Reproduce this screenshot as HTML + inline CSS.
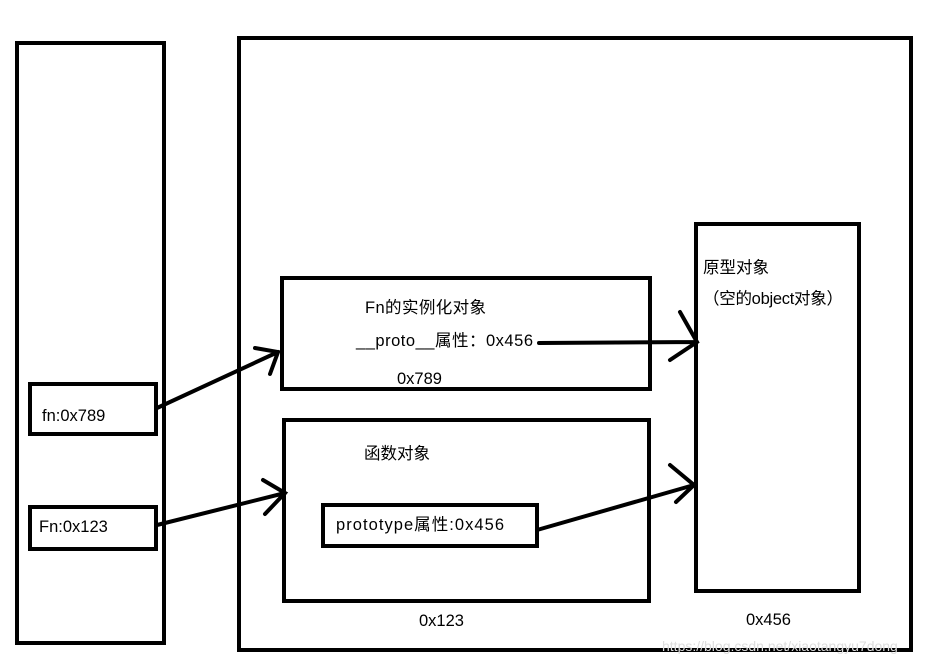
<!DOCTYPE html>
<html><head><meta charset="utf-8"><style>
html,body{margin:0;padding:0;background:#fff;width:937px;height:663px;overflow:hidden}
text{font-family:"Liberation Sans","Noto Sans CJK SC",sans-serif;font-size:16.5px;fill:#000}
</style></head><body>
<svg width="937" height="663" xmlns="http://www.w3.org/2000/svg">
<g fill="none" stroke="#000" stroke-width="4">
<rect x="17" y="43" width="147" height="600"/>
<rect x="239" y="38" width="672" height="612"/>
<rect x="282" y="278" width="368" height="111"/>
<rect x="284" y="420" width="365" height="181"/>
<rect x="696" y="224" width="163" height="367"/>
<rect x="30" y="384" width="126" height="50"/>
<rect x="30" y="507" width="126" height="42"/>
<rect x="323" y="505" width="214" height="41"/>
</g>
<g fill="none" stroke="#000" stroke-width="4" stroke-linecap="round">
<path d="M157 408 L278 352 M255 348 L278 352 L270 374"/>
<path d="M157 525 L285 493 M263 480 L285 493 L265 514"/>
<path d="M539 343 L697 342 M680 312 L697 342 L670 360"/>
<path d="M537 530 L694 485 M670 465 L694 485 L676 502"/>
</g>
<text x="365" y="313" textLength="121">Fn的实例化对象</text>
<text x="356" y="346" textLength="177">__proto__属性：0x456</text>
<text x="397" y="384">0x789</text>
<text x="364" y="459">函数对象</text>
<text x="336" y="530" textLength="168">prototype属性:0x456</text>
<text x="419" y="626">0x123</text>
<text x="746" y="625">0x456</text>
<text x="703" y="273">原型对象</text>
<text x="703" y="304" textLength="140">（空的object对象）</text>
<text x="42" y="421">fn:0x789</text>
<text x="39" y="532">Fn:0x123</text>
<text x="662" y="651" style="font-size:14px;fill:#ddd">https://blog.csdn.net/xiaotangyu7dong</text>
</svg>
</body></html>
